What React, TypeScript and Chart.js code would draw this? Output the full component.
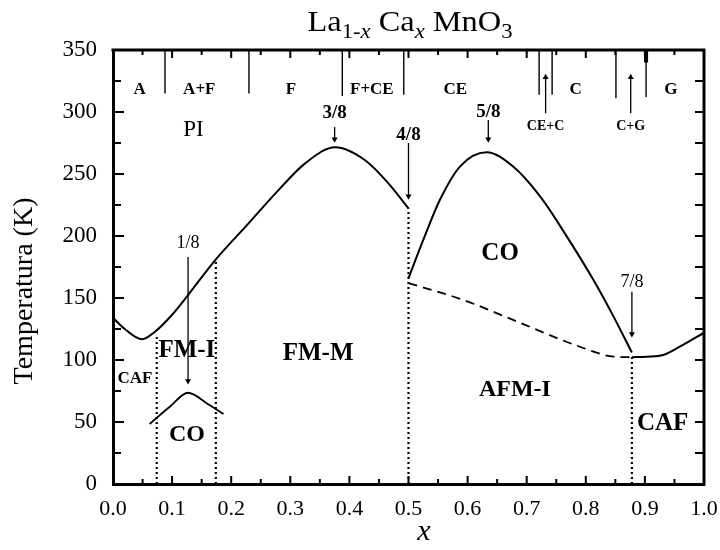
import React, { useEffect, useRef } from 'react';
import { Chart, registerables } from 'chart.js';
Chart.register(...registerables);

const SERIF = "'Liberation Serif', 'Times New Roman', serif";

// ---- axis tick labels ----
const xTickLabels = ['0.0', '0.1', '0.2', '0.3', '0.4', '0.5', '0.6', '0.7', '0.8', '0.9', '1.0'];
const yTickLabels = ['0', '50', '100', '150', '200', '250', '300', '350'];

// ---- phase boundaries ----
// Curie / Néel boundary from x=0 to x=0.5
const tcX = [0, 0.02, 0.049, 0.071, 0.1, 0.127, 0.173, 0.229, 0.28, 0.325, 0.376, 0.426, 0.466, 0.5];
const tcY = [134, 125, 116.7, 122.8, 136.5, 152.4, 180.6, 210, 237, 258.6, 271.6, 261.3, 242.5, 222.3];
// Charge-order dome (0.5 - 0.875)
const coX = [0.5, 0.525, 0.553, 0.587, 0.632, 0.677, 0.723, 0.768, 0.813, 0.847, 0.878];
const coY = [166, 196.8, 229, 256, 267.5, 256, 231.7, 199.5, 164.5, 135, 106];
// AFM boundary (dashed)
const afmX = [0.5, 0.593, 0.677, 0.79, 0.847, 0.878];
const afmY = [162, 148.4, 132.3, 110.7, 102.7, 102.2];
// Right CAF boundary
const cafX = [0.878, 0.903, 0.931, 0.959, 1.0];
const cafY = [102.2, 102.7, 104, 110.7, 122];
// Small CO dome near x=1/8
const smallCoX = [0.062, 0.096, 0.127, 0.159, 0.187];
const smallCoY = [48.4, 62.3, 73.6, 65, 56.5];
// Dotted vertical boundaries
const dottedX = [0.074, 0.174, 0.5, 0.878];
const dottedTop = [119, 181, 222.3, 102.2];
// Top separators between structural phases
const sepX = [0.088, 0.23, 0.388, 0.492, 0.721, 0.743, 0.851, 0.902];
const sepBottom = [315, 315, 313, 314, 314, 314, 311, 312];
// Arrows: x, start, end
const arrowX = [0.127, 0.375, 0.5, 0.635, 0.878, 0.732, 0.876];
const arrowFrom = [183, 288, 275, 293.6, 155, 299, 299];
const arrowTo = [83, 278, 232, 278, 121, 328, 328];

// ---- texts ----
const structNames = ['A', 'A+F', 'F', 'F+CE', 'CE', 'C', 'G'];
const structX = [0.045, 0.146, 0.301, 0.438, 0.579, 0.783, 0.944];
const structY = 318;
const mixNames = ['CE+C', 'C+G'];
const mixX = [0.732, 0.876];
const mixY = 288.7;
const fracNames = ['1/8', '3/8', '4/8', '5/8', '7/8'];
const fracX = [0.127, 0.375, 0.5, 0.635, 0.878];
const fracY = [194, 299, 281.5, 300, 163];
const fracBold = [false, true, true, true, false];
const phaseNames = ['PI', 'CAF', 'FM-I', 'CO', 'FM-M', 'CO', 'AFM-I', 'CAF'];
const phaseX = [0.136, 0.037, 0.125, 0.125, 0.347, 0.655, 0.68, 0.93];
const phaseY = [285.5, 85, 108, 39.5, 105.4, 186, 76, 49];
const phaseFontSize = [23, 17, 25, 24, 25, 25, 24, 25];
const phaseBold = [false, true, true, true, true, true, true, true];

const pts = (xs: number[], ys: number[]) => xs.map((x, i) => ({ x, y: ys[i] }));

const annotate = {
  id: 'annotate',
  afterDatasetsDraw(chart: any) {
    const ctx = chart.ctx;
    const xs = chart.scales.x;
    const ys = chart.scales.y;
    const { left, right, top, bottom } = chart.chartArea;
    ctx.save();
    ctx.strokeStyle = '#000';
    ctx.fillStyle = '#000';
    // frame top & right
    ctx.lineWidth = 3;
    ctx.beginPath();
    ctx.moveTo(left - 1.5, top);
    ctx.lineTo(right, top);
    ctx.lineTo(right, bottom + 1.5);
    ctx.stroke();
    // inward ticks
    ctx.lineWidth = 2;
    for (let i = 1; i < 20; i++) {
      const v = i * 0.05;
      const px = xs.getPixelForValue(v);
      const len = i % 2 === 0 ? 8 : 5;
      ctx.beginPath();
      ctx.moveTo(px, bottom);
      ctx.lineTo(px, bottom - len);
      ctx.moveTo(px, top);
      ctx.lineTo(px, top + len);
      ctx.stroke();
    }
    for (let i = 1; i < 14; i++) {
      const v = i * 25;
      const py = ys.getPixelForValue(v);
      const len = i % 2 === 0 ? 11 : 8;
      ctx.beginPath();
      ctx.moveTo(left, py);
      ctx.lineTo(left + len, py);
      ctx.moveTo(right, py);
      ctx.lineTo(right - 9, py);
      ctx.stroke();
    }

    ctx.textAlign = 'center';
    ctx.textBaseline = 'middle';
    const put = (t: string, x: number, y: number, size: number, bold: boolean) => {
      ctx.font = `${bold ? 'bold ' : ''}${size}px ${SERIF}`;
      ctx.fillText(t, xs.getPixelForValue(x), ys.getPixelForValue(y));
    };
    structNames.forEach((t, i) => put(t, structX[i], structY, 17, true));
    mixNames.forEach((t, i) => put(t, mixX[i], mixY, 14, true));
    fracNames.forEach((t, i) => put(t, fracX[i], fracY[i], fracBold[i] ? 19 : 18, fracBold[i]));
    phaseNames.forEach((t, i) => put(t, phaseX[i], phaseY[i], phaseFontSize[i], phaseBold[i]));

    // y-axis title
    ctx.save();
    ctx.translate(25, 291);
    ctx.rotate(-Math.PI / 2);
    ctx.font = `28px ${SERIF}`;
    ctx.fillText('Temperatura (K)', 0, 0);
    ctx.restore();

    // x-axis title
    ctx.font = `italic 30px ${SERIF}`;
    ctx.textBaseline = 'alphabetic';
    ctx.fillText('x', 424, 540);

    // chart title with subscripts
    const parts: [string, number, boolean, number][] = [
      ['La', 30, false, 0],
      ['1-', 21, false, 7],
      ['x', 21, true, 7],
      [' Ca', 30, false, 0],
      ['x', 21, true, 7],
      [' MnO', 30, false, 0],
      ['3', 21, false, 7],
    ];
    let total = 0;
    const widths = parts.map(([t, s, it]) => {
      ctx.font = `${it ? 'italic ' : ''}${s}px ${SERIF}`;
      const w = ctx.measureText(t).width;
      total += w;
      return w;
    });
    const targetW = 205;
    const sx = targetW / total;
    ctx.save();
    ctx.translate(410 - targetW / 2, 31);
    ctx.scale(sx, 1);
    ctx.textAlign = 'left';
    let cx = 0;
    parts.forEach(([t, s, it, dy], i) => {
      ctx.font = `${it ? 'italic ' : ''}${s}px ${SERIF}`;
      ctx.fillText(t, cx, dy);
      cx += widths[i];
    });
    ctx.restore();
    ctx.restore();
  },
};

export default function App() {
  const ref = useRef<HTMLCanvasElement | null>(null);
  useEffect(() => {
    if (!ref.current) return;
    const solid = (data: any[], width = 2) => ({
      data, showLine: true, borderColor: '#000', borderWidth: width, pointRadius: 0,
      cubicInterpolationMode: 'monotone' as const, fill: false,
    });
    const datasets: any[] = [
      solid(pts(tcX, tcY)),
      solid(pts(coX, coY)),
      { ...solid(pts(afmX, afmY), 1.8), borderDash: [9, 6] },
      solid(pts(cafX, cafY)),
      solid(pts(smallCoX, smallCoY), 1.8),
    ];
    dottedX.forEach((x, i) => {
      datasets.push({
        data: [{ x, y: 0 }, { x, y: dottedTop[i] }], showLine: true, borderColor: '#000',
        borderWidth: 2.2, borderDash: [2, 3], pointRadius: 0,
      });
    });
    sepX.forEach((x, i) => {
      datasets.push({
        data: [{ x, y: 350 }, { x, y: sepBottom[i] }], showLine: true, borderColor: '#000',
        borderWidth: 1.4, pointRadius: 0,
      });
    });
    datasets.push({
      data: [{ x: sepX[7], y: 350 }, { x: sepX[7], y: 340 }], showLine: true, borderColor: '#000',
      borderWidth: 4, pointRadius: 0,
    });
    arrowX.forEach((x, i) => {
      const down = arrowTo[i] < arrowFrom[i];
      datasets.push({
        data: [{ x, y: arrowFrom[i] }, { x, y: arrowTo[i] }], showLine: true, borderColor: '#000',
        borderWidth: 1.3, pointRadius: [0, 3.5], pointStyle: 'triangle',
        rotation: down ? 180 : 0, pointBackgroundColor: '#000', pointBorderColor: '#000', pointBorderWidth: 0,
      });
    });

    const chart = new Chart(ref.current, {
      type: 'scatter',
      data: { datasets },
      options: {
        animation: false,
        responsive: false,
        layout: { padding: { left: 0, right: 16, top: 50, bottom: 0 } },
        plugins: { legend: { display: false }, tooltip: { enabled: false }, title: { display: false } },
        scales: {
          x: {
            type: 'linear', min: 0, max: 1,
            grid: { display: false, drawTicks: false },
            border: { display: true, color: '#000', width: 3 },
            ticks: {
              stepSize: 0.1, padding: 12, color: '#000',
              font: { family: SERIF, size: 22 },
              callback: (v: any) => xTickLabels[Math.round(Number(v) * 10)],
            },
            afterFit: (s: any) => { s.height = 66; s.paddingRight = 0; s.paddingLeft = 0; },
          },
          y: {
            type: 'linear', min: 0, max: 350,
            grid: { display: false, drawTicks: false },
            border: { display: true, color: '#000', width: 3 },
            ticks: {
              stepSize: 50, padding: 16, color: '#000',
              font: { family: SERIF, size: 23 },
              callback: (v: any) => yTickLabels[Math.round(Number(v) / 50)],
            },
            afterFit: (s: any) => { s.width = 113; s.paddingTop = 0; s.paddingBottom = 0; },
          },
        },
      },
      plugins: [annotate],
    });
    return () => chart.destroy();
  }, []);
  return (
    <div style={{ position: 'absolute', left: 0, top: 0, width: 720, height: 550, background: '#fff' }}>
      <canvas ref={ref} width={720} height={550} />
    </div>
  );
}
